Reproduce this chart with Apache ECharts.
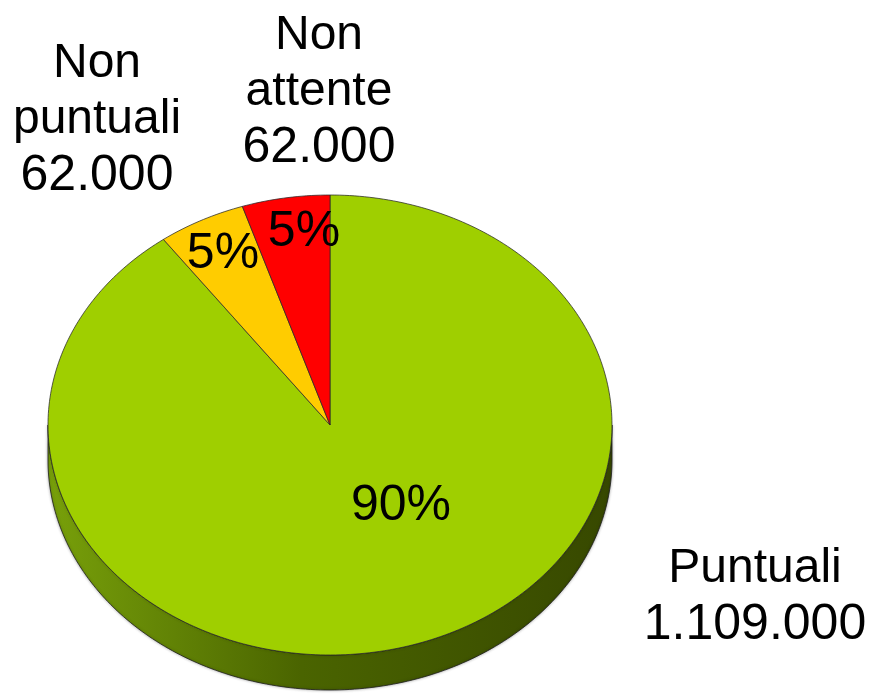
<!DOCTYPE html>
<html><head><meta charset="utf-8">
<script src="https://cdn.jsdelivr.net/npm/echarts@6/dist/echarts.min.js"></script>
<style>html,body{margin:0;padding:0;background:#fff}#c{width:872px;height:694px}</style>
</head><body><div id="c"></div>
<script>
// ---- data ----
const categories = ['Puntuali', 'Non puntuali', 'Non attente'];
const values = [1109000, 62000, 62000];
const colors = ['#9FCF00', '#FFCC00', '#FF0000'];

// ---- layout (not data) ----
const CX = 330, CY = 425, RX = 282, RY = 230, DEPTH = 35;
const labelLayout = [{x: 755, y: 541}, {x: 97, y: 36}, {x: 319, y: 8}];
const pctLayout = [{x: 401, y: 506}, {x: 223, y: 254}, {x: 304, y: 232}];
const FAM = '"Liberation Sans", Arial, sans-serif';
const FONT = '50px ' + FAM;

const total = values.reduce((a, b) => a + b, 0);
const starts = [];
let acc = 0;
values.forEach(v => { starts.push(acc / total * 360); acc += v; });
const ends = values.map((v, i) => starts[i] + v / total * 360);
const fmt = v => String(v).replace(/\B(?=(\d{3})+(?!\d))/g, '.');

function pt(deg, dy) {
  const r = deg * Math.PI / 180;
  return [CX + RX * Math.sin(r), CY - RY * Math.cos(r) + (dy || 0)];
}
function arc(a0, a1, dy) {
  const pts = [];
  const n = Math.max(2, Math.ceil(Math.abs(a1 - a0) / 1));
  for (let k = 0; k <= n; k++) pts.push(pt(a0 + (a1 - a0) * k / n, dy));
  return pts;
}

const seriesData = values.map((v, i) => ({name: categories[i], value: [v]}));

const chart = echarts.init(document.getElementById('c'), null, {renderer: 'canvas'});
chart.setOption({
  animation: false,
  backgroundColor: '#fff',
  series: [
    { // side walls
      type: 'custom', coordinateSystem: 'none', z: 1, silent: true,
      data: seriesData,
      renderItem: function (params, api) {
        const i = params.dataIndex;
        const s = Math.max(starts[i], 90), e = Math.min(ends[i], 270);
        if (e <= s) return {type: 'group', children: []};
        const top = arc(s, e, 0);
        const bot = arc(e, s, DEPTH);
        return {
          type: 'polygon',
          shape: {points: top.concat(bot)},
          style: {
            fill: new echarts.graphic.LinearGradient(0, 0, 1, 0, [
              {offset: 0, color: '#78A00A'},
              {offset: 0.45, color: '#4A6400'},
              {offset: 1, color: '#374800'}
            ]),
            stroke: 'rgba(30,30,30,0.8)', lineWidth: 1,
            shadowBlur: 3, shadowColor: 'rgba(0,0,0,0.35)'
          }
        };
      }
    },
    { // top faces
      type: 'custom', coordinateSystem: 'none', z: 2, silent: true,
      data: seriesData,
      renderItem: function (params, api) {
        const i = params.dataIndex;
        const pts = [[CX, CY]].concat(arc(starts[i], ends[i], 0));
        return {
          type: 'polygon',
          shape: {points: pts},
          style: {fill: colors[i], stroke: 'rgba(40,40,40,0.75)', lineWidth: 1}
        };
      }
    },
    { // labels
      type: 'custom', coordinateSystem: 'none', z: 3, silent: true,
      data: seriesData,
      renderItem: function (params, api) {
        const i = params.dataIndex;
        const v = api.value(0);
        const txt = categories[i].split(' ').map(w => '{w|' + w + '}').join('\n') + '\n{n|' + fmt(v) + '}';
        const pct = Math.round(v / total * 100) + '%';
        return {
          type: 'group',
          children: [
            {type: 'text', x: labelLayout[i].x, y: labelLayout[i].y,
             style: {text: txt, fill: '#000', align: 'center', verticalAlign: 'top', lineHeight: 56,
               font: FONT,
               rich: {
                 w: {font: '48px ' + FAM, fill: '#000', lineHeight: 56, align: 'center'},
                 n: {font: '50px ' + FAM, fill: '#000', lineHeight: 56, align: 'center'}
               }}},
            {type: 'text', x: pctLayout[i].x, y: pctLayout[i].y,
             style: {text: pct, font: FONT, fill: '#000', align: 'center', verticalAlign: 'middle'}}
          ]
        };
      }
    }
  ]
});
</script>
</body></html>
